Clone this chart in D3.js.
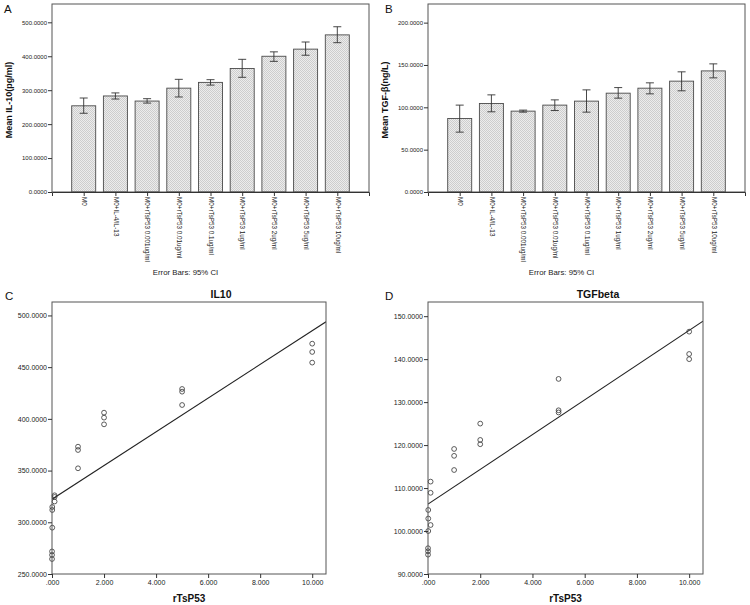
<!DOCTYPE html>
<html><head><meta charset="utf-8">
<script src="https://cdn.jsdelivr.net/npm/d3@7"></script>
<style>body{margin:0;background:#fff}svg{display:block;font-family:"Liberation Sans",Arial,sans-serif}</style>
</head><body>
<svg id="chart" width="750" height="605"></svg>
<script>
const categories = ["M0","M0+IL-4/IL-13","M0+rTsP53 0.001ug/ml","M0+rTsP53 0.01ug/ml","M0+rTsP53 0.1ug/ml","M0+rTsP53 1ug/ml","M0+rTsP53 2ug/ml","M0+rTsP53 5ug/ml","M0+rTsP53 10ug/ml"];
const il10Mean = [254,283,268,306,323,364,400,421,463];
const il10Lo   = [232,274,262,280,315,338,385,403,440];
const il10Hi   = [277,292,275,332,331,391,413,442,487];
const tgfMean = [86.8,104.5,95.5,102.6,107.3,116.7,122.6,130.9,143.0];
const tgfLo   = [70.7,94.7,94.3,96.2,94.3,110.8,115.9,119.5,134.8];
const tgfHi   = [102.6,114.7,96.7,108.8,120.6,123.3,128.9,141.9,151.3];
const il10Ticks = [0,100,200,300,400,500];
const tgfTicks = [0,50,100,150,200];

const doseX = [0.001,0.001,0.001,0.01,0.01,0.01,0.1,0.1,0.1,1,1,1,2,2,2,5,5,5,10,10,10];
const il10Points = [271.8,268.4,264.5,314.8,311.9,294.8,326.1,324.5,320.1,373.1,369.9,352.2,406.0,401.2,394.7,428.9,426.3,413.4,472.7,464.7,454.4];
const tgfPoints  = [96.0,95.3,94.5,104.9,102.9,100.0,111.5,108.9,101.4,119.1,117.5,114.2,125.0,121.2,120.2,135.4,128.1,127.6,146.4,141.2,140.0];
const doseTicks = [0,2,4,6,8,10];
const il10ScTicks = [250,300,350,400,450,500];
const tgfScTicks = [90,100,110,120,130,140,150];

const svg = d3.select("#chart");
const defs = svg.append("defs");
const pat = defs.append("pattern").attr("id","hatch").attr("width",2).attr("height",2).attr("patternUnits","userSpaceOnUse");
pat.append("rect").attr("width",2).attr("height",2).attr("fill","#ececec");
pat.append("rect").attr("x",0).attr("y",0).attr("width",1).attr("height",1).attr("fill","#cdcdcd");
pat.append("rect").attr("x",1).attr("y",1).attr("width",1).attr("height",1).attr("fill","#cdcdcd");

const fmt4 = d3.format(".4f");
const fmt3 = v => v === 0 ? ".000" : d3.format(".3f")(v);

function panelLetter(t, x, y){
  svg.append("text").attr("x",x).attr("y",y).attr("font-size",11.5).attr("fill","#111").text(t);
}

function barPanel(o){
  const g = svg.append("g");
  const x = d3.scalePoint().domain(categories).range([o.x0,o.x1]).padding(1);
  const y = d3.scaleLinear().domain(o.yDomain).range([o.y1,o.y0]);
  const bw = 24;
  g.selectAll("rect.bar").data(o.mean).join("rect")
    .attr("x",(d,i)=>x(categories[i])-bw/2).attr("width",bw)
    .attr("y",d=>y(d)).attr("height",d=>y(0)-y(d))
    .attr("fill","url(#hatch)").attr("stroke","#4a4a4a").attr("stroke-width",0.9);
  const eb = g.selectAll("g.eb").data(o.mean).join("g").attr("stroke","#333").attr("stroke-width",0.9);
  eb.append("line").attr("x1",(d,i)=>x(categories[i])).attr("x2",(d,i)=>x(categories[i]))
    .attr("y1",(d,i)=>y(o.lo[i])).attr("y2",(d,i)=>y(o.hi[i]));
  eb.append("line").attr("x1",(d,i)=>x(categories[i])-4).attr("x2",(d,i)=>x(categories[i])+4)
    .attr("y1",(d,i)=>y(o.hi[i])).attr("y2",(d,i)=>y(o.hi[i]));
  eb.append("line").attr("x1",(d,i)=>x(categories[i])-4).attr("x2",(d,i)=>x(categories[i])+4)
    .attr("y1",(d,i)=>y(o.lo[i])).attr("y2",(d,i)=>y(o.lo[i]));
  g.append("rect").attr("x",o.x0).attr("y",o.y0).attr("width",o.x1-o.x0).attr("height",o.y1-o.y0)
    .attr("fill","none").attr("stroke","#555").attr("stroke-width",1);
  const ya = g.append("g").attr("transform",`translate(${o.x0},0)`)
    .call(d3.axisLeft(y).tickValues(o.ticks).tickFormat(fmt4).tickSize(4).tickPadding(1));
  ya.select(".domain").remove();
  ya.selectAll("line").attr("stroke","#333");
  ya.selectAll("text").attr("font-size",6).attr("fill","#222").attr("font-family",null);
  const xa = g.append("g").attr("transform",`translate(0,${o.y1})`)
    .call(d3.axisBottom(x).tickSize(4).tickFormat(d=>d));
  xa.select(".domain").attr("stroke","#333");
  xa.selectAll("line").attr("stroke","#333");
  xa.selectAll("text").attr("font-size",6.3).attr("fill","#222").attr("font-family",null)
    .attr("text-anchor","start").attr("dy","0.35em")
    .attr("transform","translate(0,0) rotate(90)").attr("x",5).attr("y",0);
  g.append("text").attr("transform",`translate(${o.titleX},${(o.y0+o.y1)/2+2}) rotate(-90)`)
    .attr("text-anchor","middle").attr("font-size",9).attr("font-weight","bold").attr("fill","#111").text(o.yTitle);
  g.append("text").attr("x",(o.x0+o.x1)/2-25).attr("y",275).attr("text-anchor","middle")
    .attr("font-size",7.8).attr("fill","#222").text("Error Bars: 95% CI");
}

function scatterPanel(o){
  const g = svg.append("g");
  const x = d3.scaleLinear().domain([0,10.53]).range([o.x0,o.x1]);
  const y = d3.scaleLinear().domain(o.yDomain).range([o.y1,o.y0]);
  // least-squares fit line from the points
  const n = doseX.length;
  const mx = d3.mean(doseX), my = d3.mean(o.pts);
  let sxy=0, sxx=0;
  for(let i=0;i<n;i++){ sxy += (doseX[i]-mx)*(o.pts[i]-my); sxx += (doseX[i]-mx)**2; }
  const b = sxy/sxx, a = my - b*mx;
  g.append("clipPath").attr("id","clip"+o.id).append("rect")
    .attr("x",o.x0).attr("y",o.y0).attr("width",o.x1-o.x0).attr("height",o.y1-o.y0);
  g.append("line").attr("clip-path",`url(#clip${o.id})`)
    .attr("x1",x(0)).attr("y1",y(a)).attr("x2",x(10.53)).attr("y2",y(a+b*10.53))
    .attr("stroke","#222").attr("stroke-width",1.1);
  g.selectAll("circle").data(o.pts).join("circle")
    .attr("cx",(d,i)=>x(doseX[i])).attr("cy",d=>y(d)).attr("r",2.4)
    .attr("fill","none").attr("stroke","#333").attr("stroke-width",0.8);
  g.append("rect").attr("x",o.x0).attr("y",o.y0).attr("width",o.x1-o.x0).attr("height",o.y1-o.y0)
    .attr("fill","none").attr("stroke","#555").attr("stroke-width",1);
  const ya = g.append("g").attr("transform",`translate(${o.x0},0)`)
    .call(d3.axisLeft(y).tickValues(o.ticks).tickFormat(fmt4).tickSize(4).tickPadding(1));
  ya.select(".domain").remove();
  ya.selectAll("line").attr("stroke","#333");
  ya.selectAll("text").attr("font-size",7).attr("fill","#222").attr("font-family",null);
  const xa = g.append("g").attr("transform",`translate(0,${o.y1})`)
    .call(d3.axisBottom(x).tickValues(doseTicks).tickFormat(fmt3).tickSize(4).tickPadding(2));
  xa.select(".domain").remove();
  xa.selectAll("line").attr("stroke","#333");
  xa.selectAll("text").attr("font-size",7).attr("fill","#222").attr("font-family",null);
  g.append("text").attr("x",(o.x0+o.x1)/2).attr("y",602).attr("text-anchor","middle")
    .attr("font-size",10).attr("font-weight","bold").attr("fill","#111").text("rTsP53");
  g.append("text").attr("x",o.titleX).attr("y",298).attr("text-anchor","middle")
    .attr("font-size",10.5).attr("font-weight","bold").attr("fill","#111").text(o.title);
}

panelLetter("A",4,13); panelLetter("B",385,13);
panelLetter("C",5,300); panelLetter("D",385,300);

barPanel({x0:52,x1:369,y0:4,y1:192,yDomain:[0,554],mean:il10Mean,lo:il10Lo,hi:il10Hi,ticks:il10Ticks,yTitle:"Mean IL-10(pg/ml)",titleX:12});
barPanel({x0:428,x1:745,y0:4,y1:192,yDomain:[0,222],mean:tgfMean,lo:tgfLo,hi:tgfHi,ticks:tgfTicks,yTitle:"Mean TGF-β(ng/L)",titleX:388});
scatterPanel({id:"c",x0:52,x1:326,y0:302,y1:574,yDomain:[250,513],pts:il10Points,ticks:il10ScTicks,title:"IL10",titleX:221});
scatterPanel({id:"d",x0:428,x1:703,y0:302,y1:574,yDomain:[90,153.3],pts:tgfPoints,ticks:tgfScTicks,title:"TGFbeta",titleX:598});
</script>
</body></html>
